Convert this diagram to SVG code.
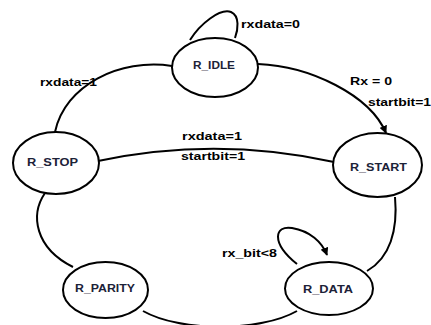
<svg xmlns="http://www.w3.org/2000/svg" width="431" height="325" viewBox="0 0 431 325">
  <style>
    .state { fill: #ffffff; stroke: #000000; stroke-width: 2; }
    .name { font-family: "Liberation Sans", Arial, sans-serif; font-weight: bold; font-size: 11px; fill: #1c2238; }
    .edge { fill: none; stroke: #000000; stroke-width: 2; }
    .cond { font-family: "Liberation Sans", Arial, sans-serif; font-weight: bold; font-size: 11px; fill: #000000; }
  </style>
  <defs>
    <marker id="arrow" viewBox="0 0 10 10" refX="9" refY="5" markerWidth="4" markerHeight="4" orient="auto" markerUnits="strokeWidth">
      <path d="M0,0 L10,5 L0,10 z" fill="#000000"/>
    </marker>
  </defs>
  <rect width="431" height="325" fill="#ffffff"/>

  <!-- transitions -->
  <g id="connectors">
    <path class="edge" d="M 190 40 C 200 24, 220 8, 231 12 C 240 16, 238 30, 235 38"/>
    <path class="edge" d="M 55 132 C 65 85, 120 58, 172 66"/>
    <path class="edge" d="M 258 64 C 310 66, 370 95, 386 133" marker-end="url(#arrow)"/>
    <path class="edge" d="M 98 161 Q 216 136 334 162"/>
    <path class="edge" d="M 395 197 C 398 230, 390 258, 367 271"/>
    <path class="edge" d="M 297 264 C 270 242, 275 225, 292 228 C 310 231, 322 242, 327 255" marker-end="url(#arrow)"/>
    <path class="edge" d="M 297 311 C 260 332, 180 332, 143 311"/>
    <path class="edge" d="M 73 267 C 35 248, 30 215, 45 193"/>
    <text class="cond" x="241" y="28" textLength="59" lengthAdjust="spacingAndGlyphs">rxdata=0</text>
    <text class="cond" x="40" y="86" textLength="57" lengthAdjust="spacingAndGlyphs">rxdata=1</text>
    <text class="cond" x="350" y="85" textLength="42" lengthAdjust="spacingAndGlyphs">Rx = 0</text>
    <text class="cond" x="368" y="106" textLength="63" lengthAdjust="spacingAndGlyphs">startbit=1</text>
    <text class="cond" x="182" y="140" textLength="60" lengthAdjust="spacingAndGlyphs">rxdata=1</text>
    <text class="cond" x="181" y="160" textLength="64" lengthAdjust="spacingAndGlyphs">startbit=1</text>
    <text class="cond" x="222" y="257" textLength="55" lengthAdjust="spacingAndGlyphs">rx_bit&lt;8</text>
  </g>

  <g id="r_idle">
    <ellipse class="state" cx="215" cy="67.5" rx="43" ry="29.5"/>
    <text class="name" x="193" y="69" textLength="42" lengthAdjust="spacingAndGlyphs">R_IDLE</text>
  </g>
  <g id="r_stop">
    <ellipse class="state" cx="56" cy="163" rx="43" ry="31"/>
    <text class="name" x="27" y="166" textLength="51" lengthAdjust="spacingAndGlyphs">R_STOP</text>
  </g>
  <g id="r_start">
    <ellipse class="state" cx="377.5" cy="165" rx="44.5" ry="32"/>
    <text class="name" x="350" y="171" textLength="57" lengthAdjust="spacingAndGlyphs">R_START</text>
  </g>
  <g id="r_data">
    <ellipse class="state" cx="329" cy="288.5" rx="44" ry="26.5"/>
    <text class="name" x="303" y="293" textLength="50" lengthAdjust="spacingAndGlyphs">R_DATA</text>
  </g>
  <g id="r_parity">
    <ellipse class="state" cx="105.5" cy="290" rx="42.5" ry="28"/>
    <text class="name" x="75" y="292" textLength="60" lengthAdjust="spacingAndGlyphs">R_PARITY</text>
  </g>
</svg>
